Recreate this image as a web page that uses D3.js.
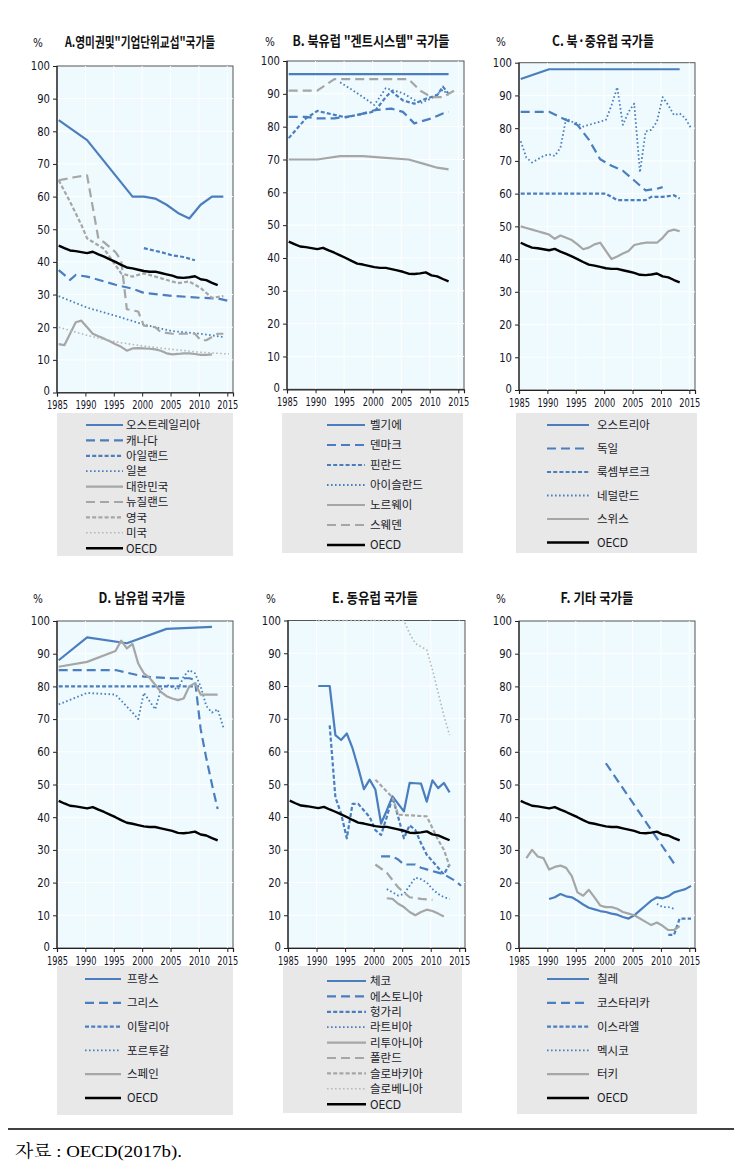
<!DOCTYPE html>
<html><head><meta charset="utf-8">
<script src="https://cdn.jsdelivr.net/npm/d3@7"></script>
<style>body{margin:0;background:#fff}</style>
</head><body>
<svg id="c" width="742" height="1170"></svg>
<script>
// ---------- DATA ----------
const xTicks = [1985,1990,1995,2000,2005,2010,2015];
const yTicks = [0,10,20,30,40,50,60,70,80,90,100];

const oecd = [[1985,45],[1986,44.2],[1987,43.5],[1988,43.3],[1989,43],[1990,42.7],[1991,43.1],[1992,42.3],[1993,41.6],[1994,40.8],[1995,40],[1996,39.1],[1997,38.3],[1998,38],[1999,37.6],[2000,37.2],[2001,37],[2002,37],[2003,36.6],[2004,36.2],[2005,35.8],[2006,35.2],[2007,35.1],[2008,35.3],[2009,35.6],[2010,34.7],[2011,34.4],[2012,33.6],[2013,32.9]];

// A
const australia = [[1985,83.4],[1990,77.3],[1998,60],[2000,60],[2002,59.4],[2004,57.5],[2006,55],[2008,53.3],[2010,57.5],[2012,60],[2014,60]];
const canada = [[1985,37.5],[1987,34.5],[1988,36],[1990,35.5],[1995,33],[1998,31.8],[2000,30.5],[2005,29.6],[2010,29],[2013,28.8],[2015,28]];
const ireland = [[2000,44.2],[2003,43],[2005,42],[2007,41.5],[2009,40.5]];
const japan = [[1985,29.5],[1990,26],[1995,23.5],[2000,20.8],[2005,18.8],[2010,18],[2014,17]];
const korea = [[1985,14.8],[1986,14.5],[1987,18],[1988,21.5],[1989,22],[1990,20],[1991,18],[1992,17.2],[1993,16.5],[1994,15.7],[1995,14.8],[1996,14],[1997,12.8],[1998,13.5],[1999,13.6],[2000,13.5],[2001,13.4],[2002,13.2],[2003,12.8],[2004,12],[2005,11.7],[2006,11.8],[2007,12],[2008,12],[2009,11.8],[2010,11.5],[2011,11.5],[2012,11.7]];
const newZealand = [[1985,65],[1988,66],[1990,66.5],[1992,47],[1993,46],[1995,43],[1996,40.5],[1997,25.5],[1999,24.8],[2000,20.5],[2002,20],[2003,18.5],[2005,18],[2007,18],[2009,18],[2010,16],[2011,16],[2012,17],[2013,18],[2014,18]];
const uk = [[1985,65],[1987,58.4],[1989,51.3],[1990,47.2],[1993,44],[1995,39],[1996,36.5],[1998,35.5],[2000,36.5],[2003,35],[2006,33.5],[2008,34],[2010,32],[2012,29],[2014,29.5]];
const usa = [[1985,20],[1990,17.5],[1995,15.5],[2000,14.2],[2005,13.2],[2010,12.3],[2015,11.8]];

// B
const belgium = [[1985,96],[2013,96]];
const denmark = [[1985,83],[1988,83],[1990,82.5],[1993,82.5],[1995,83],[1997,83.5],[2000,85],[2003,85.5],[2005,84.5],[2007,81],[2008,81.5],[2010,82.5],[2012,84],[2013,84.5]];
const finland = [[1985,76.5],[1988,82.5],[1990,84.8],[1993,83.6],[1995,82.8],[1997,83.6],[2000,84.6],[2002,89],[2003,90.8],[2005,88],[2007,87],[2009,88.5],[2011,89.6],[2012,92.2],[2013,90]];
const iceland = [[1994,93.5],[1997,90.2],[2000,86.6],[2002,91.7],[2005,90.2],[2008,87.1],[2010,88.6],[2012,91.2],[2013,89.6]];
const norway = [[1985,70],[1990,70],[1994,71],[1998,71],[2002,70.5],[2006,70],[2009,68.5],[2011,67.5],[2013,67]];
const sweden = [[1985,91],[1990,91],[1993,94.5],[2006,94.5],[2008,91],[2010,89],[2012,89],[2014,91]];

// C
const austria = [[1985,95],[1990,98],[2013,98]];
const germany = [[1985,85],[1990,85],[1993,82.5],[1995,81],[1997,76.5],[1999,70.5],[2001,68.5],[2003,67],[2005,64],[2007,61],[2009,61.5],[2010,62]];
const luxembourg = [[1985,60],[2000,60],[2002,58],[2007,58],[2008,59],[2010,59],[2012,59.5],[2013,58.5]];
const netherlands = [[1985,76],[1986,71],[1987,69.5],[1988,70.5],[1989,71.5],[1990,72],[1991,71.5],[1992,74],[1993,83],[1994,82],[1995,81.5],[1996,80.5],[1997,81],[1998,81.5],[1999,82],[2000,82.5],[2001,87],[2002,92.5],[2003,81],[2004,85],[2005,87.5],[2006,66.5],[2007,79],[2008,79.5],[2009,82],[2010,89.5],[2011,87],[2012,84],[2013,84.5],[2014,83],[2015,80]];
const switzerland = [[1985,50],[1986,49.5],[1987,49],[1988,48.5],[1989,48],[1990,47.5],[1991,46.2],[1992,47.2],[1993,46.5],[1994,45.8],[1995,44.5],[1996,43],[1997,43.5],[1998,44.5],[1999,45],[2000,42.5],[2001,40],[2002,40.8],[2003,41.7],[2004,42.5],[2005,44.3],[2006,44.7],[2007,45],[2008,45],[2009,45],[2010,46.5],[2011,48.5],[2012,49],[2013,48.5]];

// D
const france = [[1985,88],[1990,95],[1997,93.2],[2004,97.6],[2012,98.2]];
const greece = [[1985,85],[1995,85],[2000,83],[2005,82.5],[2008,82.5],[2009,82],[2010,67],[2011,58],[2012,50],[2013,42.5]];
const italy = [[1985,80],[2010,80]];
const portugal = [[1985,74.5],[1990,78],[1995,77.5],[1998,72],[1999,70],[2000,78],[2002,73],[2003,79],[2004,80.5],[2006,79],[2007,83],[2008,85],[2009,84],[2010,80],[2011,74],[2012,72],[2013,73],[2014,67.5]];
const spain = [[1985,86],[1990,87.5],[1995,90.8],[1996,94],[1997,91.6],[1998,93],[1999,87],[2000,84],[2001,82.6],[2002,80.5],[2003,78.3],[2004,77],[2005,76.3],[2006,75.8],[2007,76.3],[2008,80],[2009,81],[2010,77.5],[2011,77.5],[2012,77.5],[2013,77.5]];

// E
const czech = [[1990,80],[1991,80],[1992,80],[1993,65],[1994,63.5],[1995,65.5],[1996,61],[1997,55],[1998,48.5],[1999,51.4],[2000,48.4],[2001,38],[2002,42],[2003,46.3],[2004,44],[2005,41.7],[2006,50.4],[2007,50.3],[2008,50.2],[2009,44.7],[2010,51.2],[2011,48.8],[2012,50.4],[2013,47.5]];
const estonia = [[2001,28],[2002,28],[2003,28],[2004,27],[2005,25.5],[2006,25.5],[2007,25.5],[2008,24.5],[2009,24],[2010,23.5],[2011,23],[2012,22.5],[2013,21.5],[2014,20.5],[2015,19]];
const hungary = [[1992,68],[1993,46],[1994,41],[1995,33.5],[1996,44],[1997,44],[1998,42],[1999,40],[2000,36],[2001,34.5],[2002,40],[2003,46],[2004,40],[2005,33.5],[2006,37.5],[2007,36],[2008,32],[2009,28.5],[2010,26.5],[2011,24.5],[2012,22.5],[2013,25.5]];
const latvia = [[2002,18],[2003,17],[2004,16],[2005,16.5],[2006,19],[2007,21.5],[2008,21],[2009,20],[2010,18],[2011,16.5],[2012,15.5],[2013,15]];
const lithuania = [[2002,15.2],[2003,15],[2004,13.5],[2005,12.5],[2006,11],[2007,10],[2008,11],[2009,11.7],[2010,11.3],[2011,10.5],[2012,9.6]];
const poland = [[2000,25.5],[2002,23],[2004,18.5],[2006,15.5],[2008,15],[2010,14.7]];
const slovakia = [[2000,51.4],[2003,46],[2004,40.7],[2006,40.5],[2008,40.3],[2009,40.2],[2011,33],[2012,30],[2013,25]];
const slovenia = [[1990,100],[2005,100],[2006,96],[2007,93],[2008,92],[2009,91],[2010,85],[2011,78],[2012,71],[2013,65]];

// F
const chile = [[1990,15],[1991,15.5],[1992,16.5],[1993,15.8],[1994,15.5],[1995,14.5],[1996,13.3],[1997,12.3],[1998,11.8],[1999,11.3],[2000,11],[2001,10.5],[2002,10.2],[2003,9.5],[2004,9],[2005,10],[2006,11.5],[2007,13],[2008,14.5],[2009,15.5],[2010,15.2],[2011,15.8],[2012,17],[2013,17.5],[2014,18],[2015,19]];
const costaRica = [[2000,56.5],[2004,46.3],[2008,36.1],[2012,25.9]];
const israel = [[2011,4],[2012,4],[2013,9],[2014,9],[2015,9]];
const mexico = [[2009,13.5],[2010,12.5],[2011,12.5],[2012,12]];
const turkey = [[1986,27.5],[1987,30],[1988,28],[1989,27.5],[1990,24],[1991,24.8],[1992,25.2],[1993,24.5],[1994,22],[1995,17],[1996,16],[1997,17.8],[1998,15.5],[1999,13],[2000,12.5],[2001,12.5],[2002,12],[2003,11],[2004,10.5],[2005,10],[2006,9],[2007,8],[2008,7],[2009,7.8],[2010,6.8],[2011,5.5],[2012,5.5],[2013,6.7]];

// ---------- STYLES ----------
const BLUE = '#4a7ebf', GRAY = '#a6a6a6';
const styles = {
  bs:{c:BLUE,w:2.2,d:null}, bl:{c:BLUE,w:2.2,d:'9,5'}, bd:{c:BLUE,w:2.2,d:'4,2.2'}, bo:{c:BLUE,w:1.8,d:'1.6,2.4'},
  gs:{c:GRAY,w:2.2,d:null}, gl:{c:GRAY,w:2.2,d:'9,5'}, gd:{c:GRAY,w:2.2,d:'4,2.2'}, go:{c:'#b8b8b8',w:1.6,d:'1.6,2.4'},
  k:{c:'#000',w:2.4,d:null}
};

const panels = [
 {title:'A.영미권및"기업단위교섭"국가들', tw:150, tx:140, ty:47, px:38, r:[57,66,233,392.5],
  leg:{box:[57,413,233,556], y0:425, dy:15.4, l0:86, l1:123, tx:126},
  series:[['오스트레일리아',australia,'bs'],['캐나다',canada,'bl'],['아일랜드',ireland,'bd'],['일본',japan,'bo'],['대한민국',korea,'gs'],['뉴질랜드',newZealand,'gl'],['영국',uk,'gd'],['미국',usa,'go'],['OECD',oecd,'k']]},
 {title:'B. 북유럽 "겐트시스템" 국가들', tw:157, tx:371, ty:46, px:270, r:[287,61,464,389.3],
  leg:{box:[282,413,463,553], y0:425, dy:20, l0:327, l1:365, tx:370},
  series:[['벨기에',belgium,'bs'],['덴마크',denmark,'bl'],['핀란드',finland,'bd'],['아이슬란드',iceland,'bo'],['노르웨이',norway,'gs'],['스웨덴',sweden,'gl'],['OECD',oecd,'k']]},
 {title:'C. 북·중유럽 국가들', tw:102, tx:603, ty:46, px:501, r:[519,62.7,695,390],
  leg:{box:[516,413,697,553], y0:425, dy:23.5, l0:547, l1:589, tx:597},
  series:[['오스트리아',austria,'bs'],['독일',germany,'bl'],['룩셈부르크',luxembourg,'bd'],['네덜란드',netherlands,'bo'],['스위스',switzerland,'gs'],['OECD',oecd,'k']]},
 {title:'D. 남유럽 국가들', tw:87, tx:142, ty:603, px:38, r:[57,621,233,948],
  leg:{box:[57,966,233,1115], y0:979, dy:23.8, l0:85, l1:121, tx:127},
  series:[['프랑스',france,'bs'],['그리스',greece,'bl'],['이탈리아',italy,'bd'],['포르투갈',portugal,'bo'],['스페인',spain,'gs'],['OECD',oecd,'k']]},
 {title:'E. 동유럽 국가들', tw:86, tx:375, ty:603, px:271, r:[288,620.5,465,948],
  leg:{box:[283,966,462,1113], y0:981, dy:15.4, l0:327, l1:366, tx:370},
  series:[['체코',czech,'bs'],['에스토니아',estonia,'bl'],['헝가리',hungary,'bd'],['라트비아',latvia,'bo'],['리투아니아',lithuania,'gs'],['폴란드',poland,'gl'],['슬로바키아',slovakia,'gd'],['슬로베니아',slovenia,'go'],['OECD',oecd,'k']]},
 {title:'F. 기타 국가들', tw:73, tx:597, ty:603, px:501, r:[519,621,695,948],
  leg:{box:[517,966,697,1114], y0:979, dy:23.8, l0:547, l1:589, tx:597},
  series:[['칠레',chile,'bs'],['코스타리카',costaRica,'bl'],['이스라엘',israel,'bd'],['멕시코',mexico,'bo'],['터키',turkey,'gs'],['OECD',oecd,'k']]}
];

// ---------- DRAW ----------
const svg = d3.select('#c');
const NUM = '"Liberation Sans Narrow","DejaVu Sans Condensed","Liberation Sans",sans-serif';
const KR = '"Noto Sans CJK KR","Noto Sans",sans-serif';
const XOFF = 0.3;

function applyStyle(sel, s){
  sel.attr('fill','none').attr('stroke',s.c).attr('stroke-width',s.w)
     .attr('stroke-linejoin','round');
  if(s.d) sel.attr('stroke-dasharray',s.d);
}

panels.forEach(p=>{
  const [x0,y0,x1,y1] = p.r;
  const x = d3.scaleLinear().domain([1985,2016]).range([x0,x1]);
  const y = d3.scaleLinear().domain([0,100]).range([y1,y0]);
  const g = svg.append('g');

  g.append('rect').attr('x',x0).attr('y',y0).attr('width',x1-x0).attr('height',y1-y0)
   .attr('fill','#eefafd').attr('stroke','#555').attr('stroke-width',1);
  g.selectAll('.gy').data(yTicks.slice(1,-1)).join('line')
   .attr('x1',x0).attr('x2',x1).attr('y1',d=>y(d)).attr('y2',d=>y(d))
   .attr('stroke','#fff').attr('stroke-width',1);
  g.selectAll('.gx').data(xTicks.slice(1)).join('line')
   .attr('y1',y0).attr('y2',y1).attr('x1',d=>x(d)).attr('x2',d=>x(d))
   .attr('stroke','#fff').attr('stroke-width',1);

  const ya = d3.axisLeft(y).tickValues(yTicks).tickSize(4).tickPadding(3);
  const yg = g.append('g').attr('transform',`translate(${x0},0)`).call(ya);
  const xa = d3.axisBottom(x).tickValues(xTicks).tickFormat(d3.format('d')).tickSize(4).tickPadding(4);
  const xg = g.append('g').attr('transform',`translate(0,${y1})`).call(xa);
  [yg,xg].forEach(a=>{
    a.select('.domain').attr('stroke','#222').attr('stroke-width',1.2);
    a.selectAll('.tick line').attr('stroke','#222');
    a.selectAll('text').attr('font-family',NUM).attr('font-size',12).attr('fill','#141428');
  });
  xg.selectAll('text').attr('textLength',21).attr('lengthAdjust','spacingAndGlyphs');
  yg.selectAll('text').each(function(d){
    const t=d3.select(this);
    t.attr('textLength',t.text().length*6.4).attr('lengthAdjust','spacingAndGlyphs');
    if(d===0) t.attr('dy','0.2em');
  });
  yg.select('.domain').attr('d',`M0,${y0}V${y1}`);

  p.series.forEach(([name,data,st])=>{
    const line = d3.line().x(d=>x(d[0]+XOFF)).y(d=>y(d[1]));
    applyStyle(g.append('path').datum(data).attr('d',line), styles[st]);
  });

  g.append('text').attr('x',p.px).attr('y',p.ty).attr('text-anchor','middle')
   .attr('font-family',NUM).attr('font-size',11.5).attr('fill','#141428').text('%');
  g.append('text').attr('x',p.tx).attr('y',p.ty).attr('text-anchor','middle')
   .attr('font-family',KR).attr('font-weight','bold').attr('font-size',14)
   .attr('textLength',p.tw).attr('lengthAdjust','spacingAndGlyphs')
   .attr('fill','#111').text(p.title);

  const L = p.leg;
  g.append('rect').attr('x',L.box[0]).attr('y',L.box[1]).attr('width',L.box[2]-L.box[0]).attr('height',L.box[3]-L.box[1])
   .attr('fill','#e8e8e8');
  p.series.forEach(([name,data,st],i)=>{
    const yy = L.y0 + i*L.dy;
    applyStyle(g.append('line').attr('x1',L.l0).attr('x2',L.l1).attr('y1',yy).attr('y2',yy), styles[st]);
    g.append('text').attr('x',L.tx).attr('y',yy).attr('dy','0.36em')
     .attr('font-family', name==='OECD'?NUM:KR).attr('font-size',name==='OECD'?12:11.5)
     .attr('fill','#1a1a2a').text(name);
  });
});

svg.append('line').attr('x1',8).attr('x2',734).attr('y1',1129).attr('y2',1129).attr('stroke','#000').attr('stroke-width',1.5);
svg.append('text').attr('x',15).attr('y',1157)
  .attr('font-family','"Liberation Serif","Noto Serif CJK KR",serif').attr('font-size',17)
  .attr('textLength',167).attr('lengthAdjust','spacingAndGlyphs')
  .attr('fill','#000').text('자료 : OECD(2017b).');
</script>
</body></html>
